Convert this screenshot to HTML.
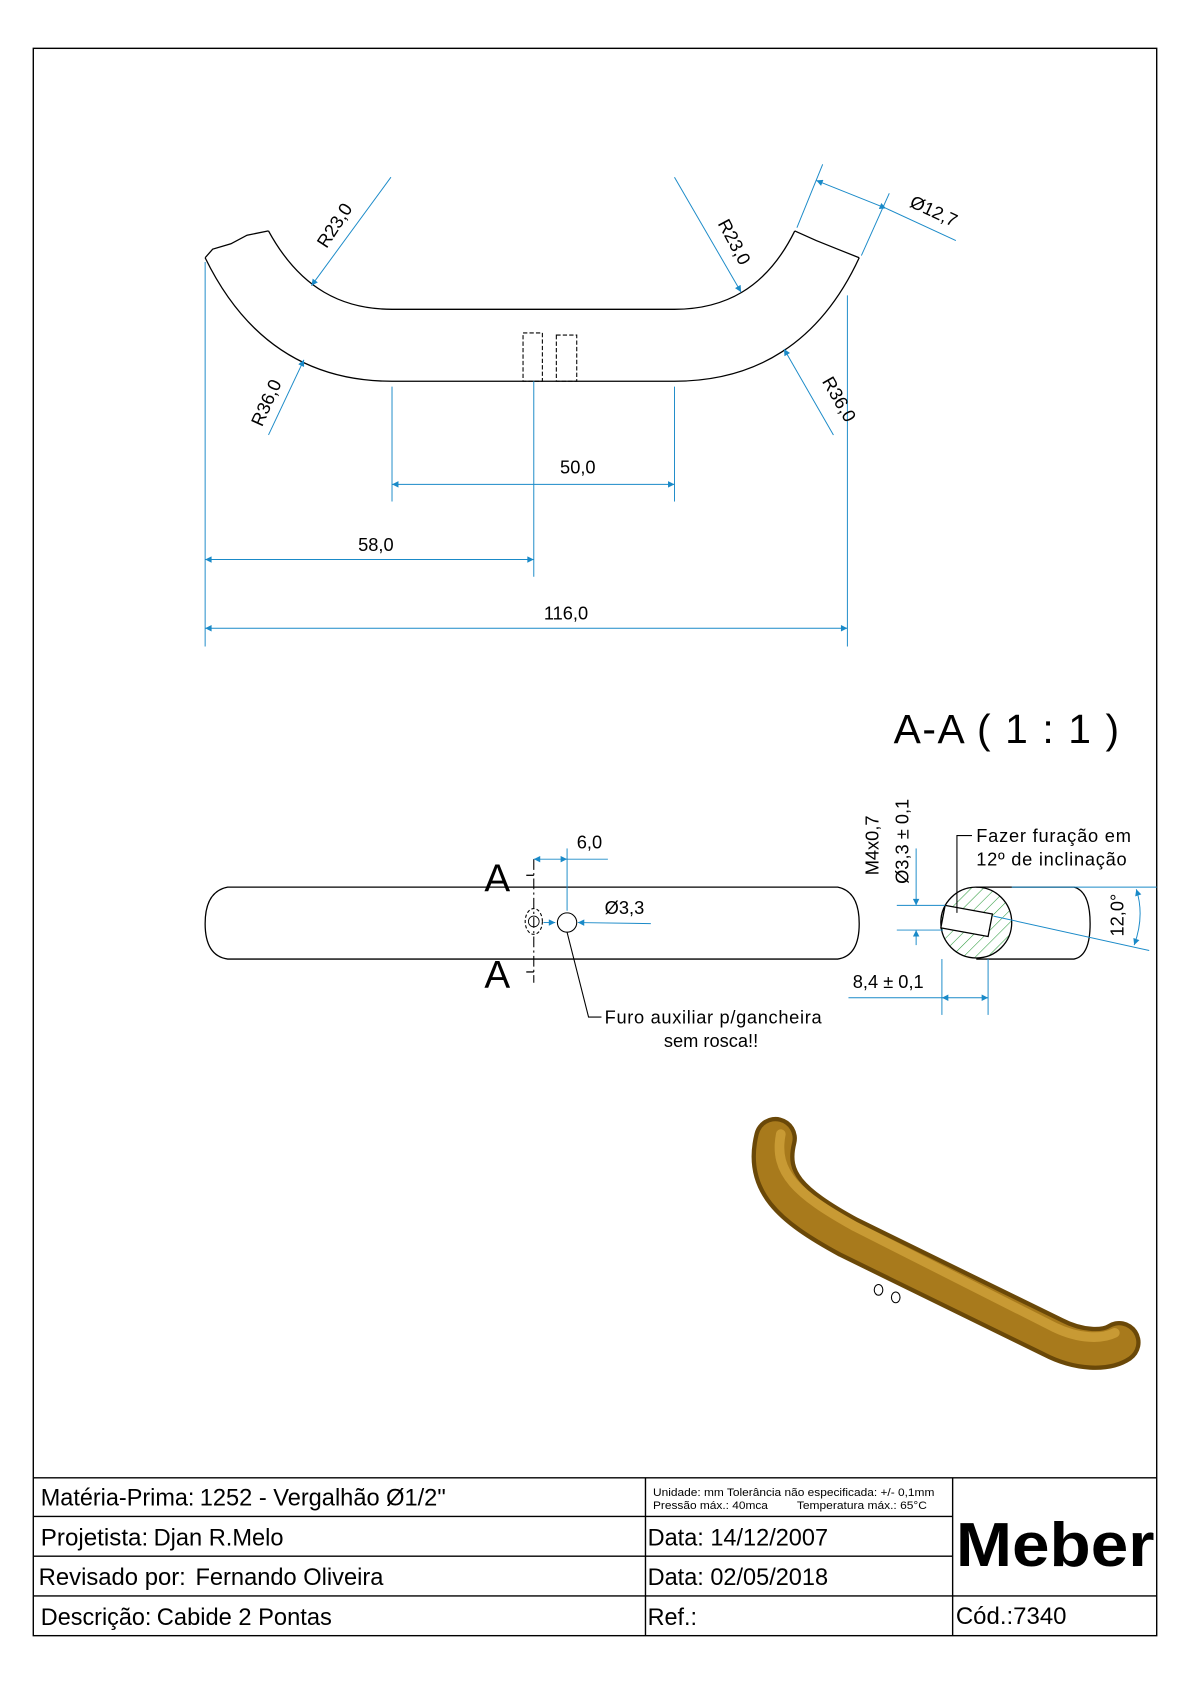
<!DOCTYPE html>
<html><head><meta charset="utf-8"><style>
html,body{margin:0;padding:0;background:#fff}
svg{display:block}
text{font-family:"Liberation Sans",sans-serif}
</style></head><body>
<svg width="1190" height="1684" viewBox="0 0 1108 1568" preserveAspectRatio="none" xmlns="http://www.w3.org/2000/svg">
<defs>
<marker id="ar" viewBox="0 0 10 10" refX="10" refY="5" markerWidth="9" markerHeight="6" orient="auto-start-reverse" markerUnits="userSpaceOnUse"><path d="M0,0 L10,5 L0,10z" fill="#1a8ac8"/></marker>
<pattern id="hatch" patternUnits="userSpaceOnUse" width="8" height="8" patternTransform="rotate(45)"><line x1="0" y1="0" x2="0" y2="8" stroke="#2a9a3a" stroke-width="1"/></pattern>
</defs>
<rect x="31" y="45" width="1046" height="1478" fill="none" stroke="#000" stroke-width="1.3"/>

<!-- top view -->
<g fill="none" stroke="#000" stroke-width="1.2">
<path d="M191 240 C230 320 290 355 365 355 L628 355 C703 355 763 320 800 240"/>
<path d="M250 215 C280 270 320 288 365 288 L628 288 C673 288 713 270 740 215"/>
<path d="M191 240 L198 232 L215 227 L230 219 L250 215"/>
<path d="M740 215 L760 224 L780 232 L800 240"/>
<g stroke-dasharray="4 2" stroke-width="1"><rect x="487" y="310" width="18" height="45"/><rect x="518" y="312" width="19" height="43"/></g>
</g>
<g stroke="#1a8ac8" stroke-width="0.9" fill="none">
<line x1="191" y1="244" x2="191" y2="602"/><line x1="789" y1="275" x2="789" y2="602"/>
<line x1="365" y1="360" x2="365" y2="467"/><line x1="628" y1="360" x2="628" y2="467"/>
<line x1="497" y1="355" x2="497" y2="537"/>
<line x1="365" y1="451" x2="628" y2="451" marker-start="url(#ar)" marker-end="url(#ar)"/>
<line x1="191" y1="521" x2="497" y2="521" marker-start="url(#ar)" marker-end="url(#ar)"/>
<line x1="191" y1="585" x2="789" y2="585" marker-start="url(#ar)" marker-end="url(#ar)"/>
<line x1="364" y1="165" x2="290" y2="266" marker-end="url(#ar)"/>
<line x1="628" y1="165" x2="690" y2="272" marker-end="url(#ar)"/>
<line x1="250" y1="405" x2="283" y2="335" marker-end="url(#ar)"/>
<line x1="776" y1="405" x2="730" y2="325" marker-end="url(#ar)"/>
<line x1="742" y1="212" x2="766" y2="153"/><line x1="802" y1="238" x2="828" y2="180"/>
<line x1="760" y1="168" x2="825" y2="194" marker-start="url(#ar)" marker-end="url(#ar)"/>
<line x1="825" y1="194" x2="890" y2="224"/>
</g>
<g font-size="17" fill="#000">
<text x="538" y="441" text-anchor="middle">50,0</text>
<text x="350" y="513" text-anchor="middle">58,0</text>
<text x="527" y="577" text-anchor="middle">116,0</text>
<text transform="translate(304,232) rotate(-57)">R23,0</text>
<text transform="translate(668,208) rotate(62)">R23,0</text>
<text transform="translate(244,398) rotate(-66)">R36,0</text>
<text transform="translate(765,355) rotate(60)">R36,0</text>
<text transform="translate(846,192) rotate(25)">Ø12,7</text>
</g>

<text x="832" y="692" font-size="38" fill="#000" textLength="210">A-A  ( 1 : 1 )</text>

<!-- side view -->
<g fill="none" stroke="#000" stroke-width="1.2">
<path d="M212 826 L780 826 Q800 830 800 860 Q800 890 780 893 L212 893 Q191 890 191 860 Q191 830 212 826Z"/>
<line x1="497" y1="800" x2="497" y2="915" stroke-dasharray="10 3 2 3" stroke-width="1"/>
<line x1="490" y1="815" x2="497" y2="815"/><line x1="490" y1="905" x2="497" y2="905"/>
<ellipse cx="497" cy="858" rx="8" ry="12" stroke-dasharray="3 2" stroke-width="1"/>
<circle cx="497" cy="858" r="5" stroke-width="0.8"/>
<circle cx="528" cy="859" r="9" stroke-width="1"/>
<polyline points="528,868 548,947 560,947" stroke-width="1"/>
</g>
<g font-size="36" fill="#000"><text x="451" y="830">A</text><text x="451" y="920">A</text></g>
<g stroke="#1a8ac8" stroke-width="0.9" fill="none">
<line x1="528" y1="790" x2="528" y2="848"/>
<line x1="497" y1="800" x2="528" y2="800" marker-start="url(#ar)" marker-end="url(#ar)"/>
<line x1="528" y1="800" x2="566" y2="800"/>
<line x1="606" y1="860" x2="538" y2="859" marker-end="url(#ar)"/>
<line x1="517" y1="859" x2="506" y2="859" marker-start="url(#ar)"/>
</g>
<g font-size="17" fill="#000">
<text x="537" y="790">6,0</text>
<text x="563" y="851">Ø3,3</text>
<text x="563" y="953" textLength="202">Furo auxiliar p/gancheira</text>
<text x="662" y="975" text-anchor="middle">sem rosca!!</text>
</g>

<!-- section -->
<g fill="none" stroke="#000" stroke-width="1.2">
<path d="M909 826 L1000 826 Q1015 830 1015 860 Q1015 890 1000 893 L909 893"/>
<circle cx="909" cy="859" r="33" fill="url(#hatch)"/>
<polygon points="880,843 924,851 920,872 876,864" fill="#fff"/>
<polyline points="891,850 891,778 905,778" stroke-width="1"/>
</g>
<g stroke="#1a8ac8" stroke-width="0.9" fill="none">
<line x1="835" y1="843" x2="880" y2="843"/><line x1="835" y1="866" x2="878" y2="866"/>
<line x1="853" y1="790" x2="853" y2="843" marker-end="url(#ar)"/>
<line x1="853" y1="880" x2="853" y2="866" marker-end="url(#ar)"/>
<line x1="942" y1="826" x2="1077" y2="826"/>
<line x1="925" y1="853" x2="1070" y2="885"/>
<path d="M1058 828 Q1066 853 1056 880" marker-start="url(#ar)" marker-end="url(#ar)"/>
<line x1="877" y1="893" x2="877" y2="945"/><line x1="920" y1="893" x2="920" y2="945"/>
<line x1="790" y1="929" x2="877" y2="929"/>
<line x1="877" y1="929" x2="920" y2="929" marker-start="url(#ar)" marker-end="url(#ar)"/>
</g>
<g font-size="17" fill="#000">
<text transform="translate(818,815) rotate(-90)">M4x0,7</text>
<text transform="translate(846,823) rotate(-90)">Ø3,3 ± 0,1</text>
<text x="909" y="784" textLength="144">Fazer furação em</text>
<text x="909" y="806" textLength="140">12º de inclinação</text>
<text transform="translate(1046,872) rotate(-90)">12,0°</text>
<text x="794" y="920">8,4 ± 0,1</text>
</g>

<!-- 3D render -->
<g fill="none" stroke-linecap="round" stroke-linejoin="round">
<path d="M722 1060 C712 1100 735 1122 790 1152 L980 1245 C1005 1258 1030 1258 1042 1250" stroke="#6a4808" stroke-width="40"/>
<path d="M722 1060 C712 1100 735 1122 790 1152 L980 1245 C1005 1258 1030 1258 1042 1250" stroke="#a87a1c" stroke-width="32"/>
<path d="M727 1056 C720 1092 742 1112 796 1142 L982 1236 C1005 1247 1026 1247 1038 1241" stroke="#c89a34" stroke-width="9"/>
</g>
<g fill="none" stroke="#000" stroke-width="1"><ellipse cx="818" cy="1201" rx="4" ry="5"/><ellipse cx="834" cy="1208" rx="4" ry="5"/></g>

<!-- title block -->
<g stroke="#000" stroke-width="1.3" fill="none">
<line x1="31" y1="1376" x2="1077" y2="1376"/>
<line x1="31" y1="1412" x2="887" y2="1412"/>
<line x1="31" y1="1449" x2="887" y2="1449"/>
<line x1="31" y1="1486" x2="1077" y2="1486"/>
<line x1="601" y1="1376" x2="601" y2="1523"/>
<line x1="887" y1="1376" x2="887" y2="1523"/>
</g>
<g fill="#000" font-size="22" lengthAdjust="spacingAndGlyphs">
<text x="38" y="1402" textLength="143" lengthAdjust="spacingAndGlyphs">Matéria-Prima:</text><text x="186" y="1402" textLength="229" lengthAdjust="spacingAndGlyphs">1252 - Vergalhão Ø1/2"</text>
<text x="38" y="1439" textLength="100" lengthAdjust="spacingAndGlyphs">Projetista:</text><text x="143" y="1439" textLength="121" lengthAdjust="spacingAndGlyphs">Djan R.Melo</text>
<text x="36" y="1476" textLength="137" lengthAdjust="spacingAndGlyphs">Revisado por:</text><text x="182" y="1476" textLength="175" lengthAdjust="spacingAndGlyphs">Fernando Oliveira</text>
<text x="38" y="1513" textLength="103" lengthAdjust="spacingAndGlyphs">Descrição:</text><text x="146" y="1513" textLength="163" lengthAdjust="spacingAndGlyphs">Cabide 2 Pontas</text>
<text x="603" y="1439" textLength="168" lengthAdjust="spacingAndGlyphs">Data: 14/12/2007</text>
<text x="603" y="1476" textLength="168" lengthAdjust="spacingAndGlyphs">Data: 02/05/2018</text>
<text x="603" y="1513" textLength="46" lengthAdjust="spacingAndGlyphs">Ref.:</text>
<text x="890" y="1512" textLength="103" lengthAdjust="spacingAndGlyphs">Cód.:7340</text>
<text x="608" y="1393" font-size="10" textLength="262" lengthAdjust="spacingAndGlyphs">Unidade: mm Tolerância não especificada: +/- 0,1mm</text>
<text x="608" y="1405" font-size="10" textLength="107" lengthAdjust="spacingAndGlyphs">Pressão máx.: 40mca</text>
<text x="742" y="1405" font-size="10" textLength="121" lengthAdjust="spacingAndGlyphs">Temperatura máx.: 65°C</text>
<text x="890" y="1458" font-size="58" font-weight="bold" textLength="185" lengthAdjust="spacingAndGlyphs">Meber</text>
</g>
</svg>
</body></html>
